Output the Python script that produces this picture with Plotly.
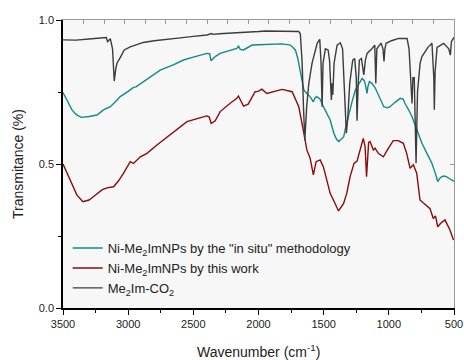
import plotly.graph_objects as go

# ---------------- data ----------------
wn_co2 = [3500, 3400, 3300, 3200, 3168, 3158, 3145, 3137, 3120, 3107, 3095, 3086, 3060, 3030,
          2984, 2950, 2884, 2800, 2703, 2600, 2500, 2396, 2360, 2350, 2300, 2202, 2100, 2000,
          1947, 1850, 1750, 1691, 1679, 1665, 1655, 1645, 1630, 1614, 1589, 1550, 1530, 1520,
          1512, 1505, 1487, 1466, 1455, 1441, 1435, 1430, 1420, 1397, 1372, 1355, 1340, 1326,
          1315, 1300, 1277, 1262, 1250, 1244, 1235, 1226, 1210, 1200, 1192, 1180, 1167, 1130,
          1108, 1100, 1092, 1060, 1045, 1037, 1030, 1021, 980, 924, 860, 845, 822, 815, 805,
          791, 780, 760, 746, 700, 669, 655, 651, 645, 630, 579, 540, 528, 520, 500]
t_co2 = [0.931, 0.930, 0.934, 0.937, 0.939, 0.925, 0.932, 0.935, 0.900, 0.788, 0.830, 0.850,
         0.870, 0.896, 0.907, 0.912, 0.922, 0.928, 0.934, 0.938, 0.943, 0.948, 0.953, 0.950,
         0.952, 0.954, 0.957, 0.960, 0.962, 0.961, 0.960, 0.960, 0.952, 0.850, 0.700, 0.583,
         0.700, 0.780, 0.850, 0.919, 0.933, 0.850, 0.699, 0.850, 0.900, 0.896, 0.860, 0.722,
         0.780, 0.740, 0.850, 0.913, 0.921, 0.900, 0.750, 0.607, 0.660, 0.780, 0.861, 0.866,
         0.800, 0.650, 0.780, 0.861, 0.866, 0.840, 0.809, 0.860, 0.884, 0.900, 0.913, 0.780,
         0.900, 0.920, 0.900, 0.856, 0.900, 0.919, 0.928, 0.936, 0.936, 0.900, 0.710, 0.800,
         0.800, 0.503, 0.750, 0.850, 0.873, 0.905, 0.919, 0.800, 0.688, 0.820, 0.905, 0.919,
         0.900, 0.878, 0.925, 0.940]

wn_insitu = [3500, 3460, 3431, 3400, 3360, 3300, 3239, 3189, 3160, 3137, 3100, 3061, 3000, 2959,
             2940, 2900, 2856, 2800, 2754, 2650, 2575, 2500, 2396, 2375, 2365, 2350, 2332, 2294,
             2202, 2166, 2154, 2140, 2115, 2049, 2000, 1900, 1819, 1755, 1717, 1700, 1681, 1665,
             1652, 1630, 1604, 1579, 1565, 1553, 1527, 1502, 1474, 1450, 1422, 1400, 1384, 1365,
             1346, 1330, 1307, 1280, 1257, 1230, 1205, 1190, 1182, 1167, 1160, 1149, 1130, 1103,
             1070, 1039, 1010, 991, 950, 912, 890, 876, 850, 822, 784, 746, 700, 669, 645, 625,
             610, 594, 575, 556, 530, 505, 500]
t_insitu = [0.748, 0.710, 0.688, 0.672, 0.662, 0.665, 0.670, 0.688, 0.695, 0.699, 0.715, 0.734,
            0.752, 0.766, 0.768, 0.780, 0.794, 0.812, 0.826, 0.845, 0.861, 0.871, 0.884, 0.883,
            0.859, 0.865, 0.873, 0.884, 0.896, 0.901, 0.910, 0.898, 0.896, 0.913, 0.914, 0.916,
            0.917, 0.913, 0.896, 0.870, 0.820, 0.780, 0.757, 0.745, 0.734, 0.716, 0.730, 0.734,
            0.725, 0.699, 0.676, 0.653, 0.607, 0.585, 0.578, 0.585, 0.595, 0.630, 0.676, 0.720,
            0.757, 0.780, 0.797, 0.790, 0.780, 0.745, 0.770, 0.786, 0.780, 0.763, 0.730, 0.699,
            0.695, 0.699, 0.715, 0.728, 0.725, 0.710, 0.690, 0.664, 0.618, 0.572, 0.530, 0.502,
            0.470, 0.439, 0.450, 0.456, 0.458, 0.455, 0.448, 0.442, 0.440]

wn_work = [3500, 3444, 3393, 3347, 3300, 3265, 3201, 3163, 3112, 3076, 3035, 2984, 2959, 2907,
           2856, 2779, 2677, 2652, 2549, 2450, 2396, 2378, 2363, 2332, 2294, 2217, 2166, 2154,
           2115, 2079, 2026, 2003, 1974, 1936, 1880, 1819, 1742, 1691, 1652, 1629, 1604, 1579,
           1558, 1527, 1502, 1476, 1450, 1425, 1386, 1347, 1323, 1297, 1267, 1244, 1221, 1196,
           1182, 1171, 1155, 1144, 1119, 1106, 1081, 1042, 1004, 966, 927, 889, 863, 837, 812,
           786, 761, 722, 684, 659, 642, 625, 600, 569, 531, 504]
t_work = [0.500, 0.444, 0.392, 0.369, 0.375, 0.387, 0.410, 0.417, 0.421, 0.440, 0.468, 0.508,
          0.502, 0.525, 0.537, 0.566, 0.603, 0.612, 0.647, 0.660, 0.667, 0.663, 0.641, 0.650,
          0.682, 0.711, 0.728, 0.736, 0.701, 0.708, 0.751, 0.752, 0.760, 0.745, 0.752, 0.759,
          0.751, 0.699, 0.607, 0.549, 0.520, 0.462, 0.508, 0.514, 0.490, 0.444, 0.398, 0.375,
          0.337, 0.363, 0.398, 0.456, 0.502, 0.510, 0.549, 0.589, 0.560, 0.456, 0.575, 0.578,
          0.549, 0.555, 0.537, 0.525, 0.554, 0.581, 0.581, 0.572, 0.537, 0.485, 0.497, 0.468,
          0.375, 0.358, 0.345, 0.311, 0.320, 0.282, 0.295, 0.306, 0.271, 0.236]

names = ['Ni-Me<sub>2</sub>ImNPs by the "in situ" methodology',
         'Ni-Me<sub>2</sub>ImNPs by this work',
         'Me<sub>2</sub>Im-CO<sub>2</sub>']
colors = ['#118a8a', '#8b0a0a', '#3c3c3c']

x_ticks = [3500, 3000, 2500, 2000, 1500, 1000, 500]
y_ticks = [0.0, 0.5, 1.0]
y_ticklabels = ['0.0', '0.5', '1.0']

FONT = 'Arial, Liberation Sans, sans-serif'

fig = go.Figure()
series = [(wn_insitu, t_insitu), (wn_work, t_work), (wn_co2, t_co2)]
for i, (xs, ys) in enumerate(series):
    fig.add_trace(go.Scatter(x=xs, y=ys, mode='lines', name=names[i],
                             line=dict(color=colors[i], width=1.4),
                             legendrank=i + 1))

# dummy trace on top axis to activate it
fig.add_trace(go.Scatter(x=[0, 19], y=[None, None], xaxis='x2', yaxis='y2',
                         showlegend=False, hoverinfo='skip'))

fig.update_layout(
    width=464, height=360,
    margin=dict(l=63, r=10, t=20, b=52, autoexpand=False),
    paper_bgcolor='white',
    plot_bgcolor='#f7f7f7',
    font=dict(family=FONT, size=11, color='#222'),
    showlegend=True,
    legend=dict(x=0.012, y=0.26, xanchor='left', yanchor='top',
                bgcolor='rgba(0,0,0,0)', font=dict(size=13, color='#222'),
                itemwidth=30, tracegroupgap=0),
    xaxis=dict(range=[3500, 500], tickvals=x_ticks, ticks='outside', ticklen=5,
               tickcolor='#000', showline=True, linecolor='#000', linewidth=1.5,
               showgrid=False, zeroline=False, automargin=False,
               minor=dict(tickvals=[3250, 2750, 2250, 1750, 1250, 750], ticks='outside',
                          ticklen=3, tickcolor='#000'),
               tickfont=dict(size=11, color='#222')),
    yaxis=dict(range=[0, 1], tickvals=y_ticks, ticktext=y_ticklabels, ticks='outside',
               ticklen=5, tickcolor='#000', showline=True, linecolor='#000', linewidth=1.5,
               showgrid=False, zeroline=False, automargin=False,
               minor=dict(tickvals=[0.25, 0.75], ticks='outside', ticklen=3, tickcolor='#000'),
               tickfont=dict(size=11, color='#222')),
    xaxis2=dict(overlaying='x', side='top', range=[0, 19], dtick=1, ticks='inside',
                ticklen=4, tickcolor='#999', showline=True, linecolor='#999', linewidth=1,
                showticklabels=False, showgrid=False, zeroline=False, automargin=False),
    yaxis2=dict(overlaying='y', side='right', range=[0, 1], tickvals=[0.5], ticks='inside',
                ticklen=4, tickcolor='#999', showline=True, linecolor='#999', linewidth=1,
                showticklabels=False, showgrid=False, zeroline=False, automargin=False),
    annotations=[
        dict(text='Wavenumber (cm<sup>-1</sup>)', xref='paper', yref='paper', x=0.5, y=0,
             yshift=-43, xanchor='center', yanchor='middle', showarrow=False,
             font=dict(size=14, color='#222')),
        dict(text='Transmitance (%)', xref='paper', yref='paper', x=0, y=0.5,
             xshift=-45, xanchor='center', yanchor='middle', textangle=-90, showarrow=False,
             font=dict(size=14, color='#222')),
    ],
)

fig.write_html('out.html')
